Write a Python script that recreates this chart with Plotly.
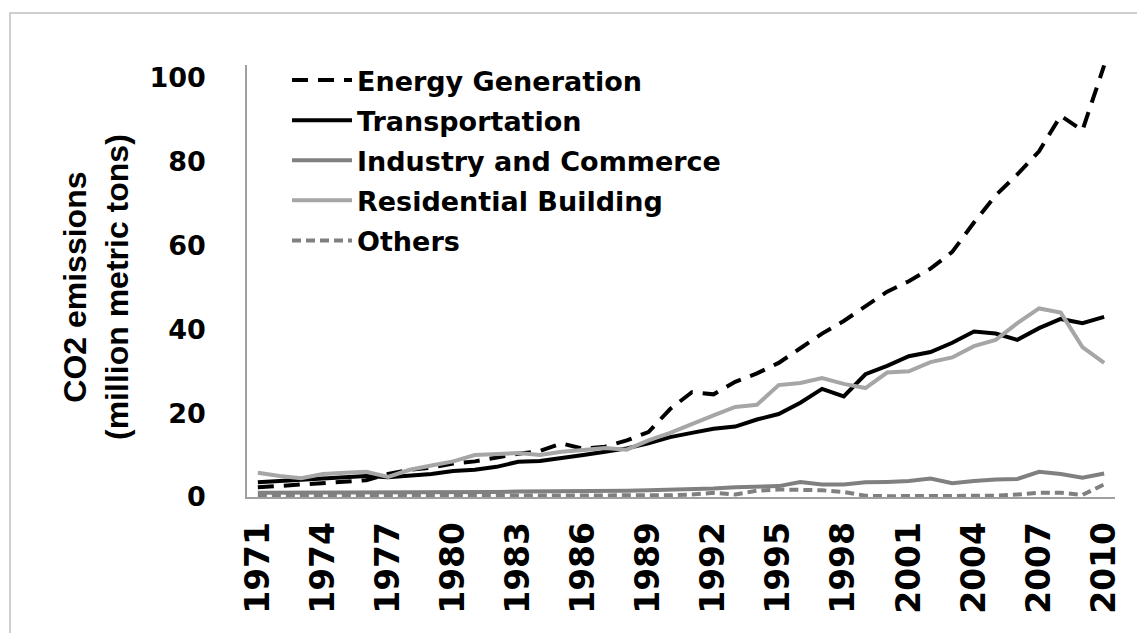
import plotly.graph_objects as go

years = [str(y) for y in range(1971, 2011)]
tick_years = ["1971", "1974", "1977", "1980", "1983", "1986", "1989", "1992",
              "1995", "1998", "2001", "2004", "2007", "2010"]
y_ticks = [0, 20, 40, 60, 80, 100]

energy_generation = [2.3, 2.6, 3.0, 3.2, 3.5, 4.0, 5.5, 6.5, 7.0, 8.0,
                     8.5, 9.5, 10.3, 11.0, 12.8, 11.5, 12.0, 13.5, 15.5, 21.0,
                     25.0, 24.5, 27.5, 29.5, 32.0, 35.5, 39.0, 42.0, 45.5, 49.0,
                     51.5, 54.5, 58.5, 65.5, 72.0, 77.0, 82.5, 91.0, 87.5, 103.0]
transportation = [3.5, 3.8, 4.0, 4.5, 4.8, 5.0, 4.7, 5.0, 5.5, 6.2,
                  6.5, 7.2, 8.4, 8.6, 9.2, 10.0, 10.8, 11.6, 12.8, 14.3,
                  15.3, 16.3, 16.8, 18.5, 19.8, 22.5, 25.8, 24.0, 29.3, 31.3,
                  33.6, 34.6, 36.8, 39.5, 39.0, 37.5, 40.3, 42.5, 41.5, 43.0]
industry_commerce = [1.0, 1.0, 1.0, 1.0, 1.0, 1.0, 1.0, 1.0, 1.1, 1.1,
                     1.2, 1.2, 1.3, 1.3, 1.4, 1.4, 1.5, 1.5, 1.6, 1.7,
                     1.8, 2.0, 2.3, 2.5, 2.6, 3.6, 3.0, 3.0, 3.5, 3.6,
                     3.8, 4.4, 3.3, 3.8, 4.2, 4.3, 6.0, 5.5, 4.6, 5.6]
residential_building = [5.8, 5.0, 4.5, 5.5, 5.8, 6.0, 4.8, 6.5, 7.5, 8.5,
                        10.0, 10.3, 10.5, 10.0, 10.8, 11.2, 11.7, 11.3, 13.5, 15.3,
                        17.5, 19.5, 21.5, 22.0, 26.7, 27.2, 28.4, 27.0, 26.0, 29.7,
                        30.0, 32.2, 33.3, 36.0, 37.5, 41.5, 45.0, 44.0, 35.8, 32.0]
others = [0.3, 0.3, 0.3, 0.3, 0.3, 0.3, 0.3, 0.3, 0.3, 0.3,
          0.3, 0.3, 0.3, 0.3, 0.3, 0.3, 0.3, 0.3, 0.3, 0.4,
          0.6, 1.0, 0.6, 1.5, 1.8, 1.8, 1.6, 1.2, 0.3, 0.2,
          0.2, 0.2, 0.2, 0.2, 0.3, 0.6, 1.0, 1.0, 0.5, 3.0]

series = [
    ("Energy Generation", energy_generation, "#000000", "16px,10px"),
    ("Transportation", transportation, "#000000", "solid"),
    ("Industry and Commerce", industry_commerce, "#808080", "solid"),
    ("Residential Building", residential_building, "#a6a6a6", "solid"),
    ("Others", others, "#808080", "9px,5px"),
]

fig = go.Figure()
for i, (name, vals, color, dash) in enumerate(series):
    fig.add_trace(go.Scatter(
        x=years, y=vals, name=name, mode="lines",
        line=dict(color=color, width=4, dash=dash),
        legendgroup=f"g{i}",
    ))

# page offset caused by the default body margin
OFF = 8
W, H = 1129, 625
ML, MT = 247 - OFF, 65 - OFF
PW = 1115 - 247
MR = W - ML - PW
MB = H - (497 - OFF)
PH = H - MT - MB


def px_x(p):
    return (p - OFF - ML) / PW


def px_y(p):
    return (H - MB - (p - OFF)) / PH


fig.update_layout(
    width=W, height=H,
    margin=dict(l=ML, r=MR, t=MT, b=MB, pad=0),
    plot_bgcolor="white", paper_bgcolor="white",
    showlegend=True,
    legend=dict(
        x=px_x(287), y=px_y(56), xanchor="left", yanchor="top",
        bgcolor="rgba(0,0,0,0)",
        font=dict(family="DejaVu Sans", size=27, color="#000000", weight="bold"),
        tracegroupgap=2, itemwidth=60,
    ),
    xaxis=dict(
        type="category", range=[-0.5, 39.5],
        tickmode="array", tickvals=tick_years, ticktext=tick_years,
        tickangle=-90,
        tickfont=dict(family="DejaVu Sans", size=33, color="#000000", weight="bold"),
        showline=True, linecolor="#a0a0a0", linewidth=1.5,
        showgrid=False, ticks="", zeroline=False,
        ticklabelstandoff=10,
    ),
    yaxis=dict(
        range=[0, 103.1], tickvals=y_ticks,
        tickfont=dict(family="DejaVu Sans", size=27, color="#000000", weight="bold"),
        showline=True, linecolor="#a0a0a0", linewidth=1.5,
        showgrid=False, ticks="", zeroline=False,
        ticklabelstandoff=34,
    ),
    annotations=[
        dict(
            text="<b>CO2 emissions</b><br><b>(million metric tons)</b>",
            xref="paper", yref="paper",
            x=px_x(96), y=px_y(287), xanchor="center", yanchor="middle",
            textangle=-90, showarrow=False,
            font=dict(family="Liberation Sans", size=32, color="#000000"),
        )
    ],
    shapes=[
        dict(type="rect", xref="paper", yref="paper",
             x0=px_x(10), x1=px_x(1200), y0=px_y(700), y1=px_y(13),
             line=dict(color="#c0c0c0", width=1.5), fillcolor="rgba(0,0,0,0)",
             layer="below")
    ],
)

fig.write_html("out.html")
